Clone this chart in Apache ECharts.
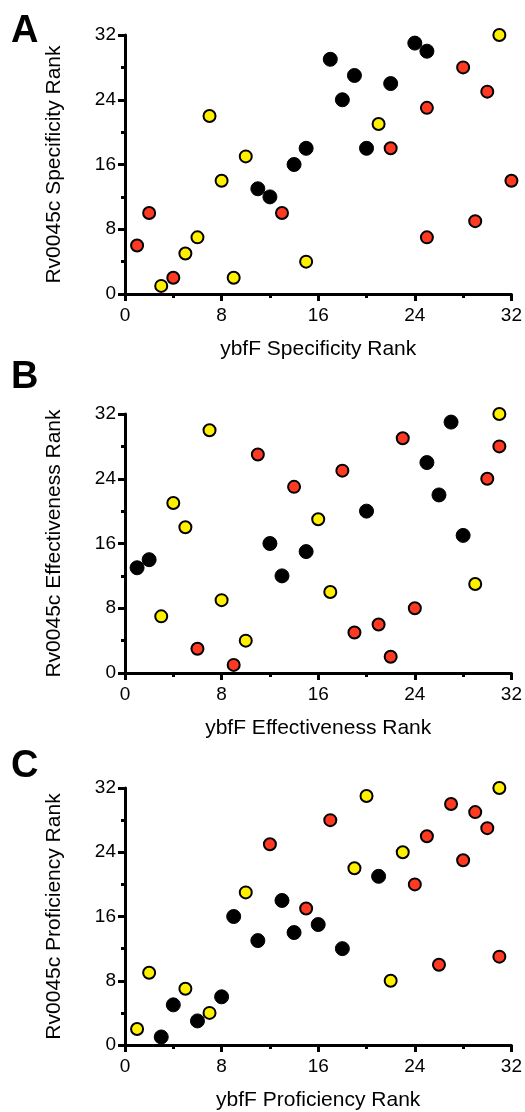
<!DOCTYPE html>
<html lang="en">
<head>
    <meta charset="UTF-8">
    <title>Rank scatter</title>
    <script src="https://cdn.jsdelivr.net/npm/echarts@6/dist/echarts.min.js"></script>
    <style>
        html, body { margin: 0; padding: 0; background: #fff; }
        #chart { width: 525px; height: 1112px; }
    </style>
</head>
<body>
<div id="chart"></div>
<script>
    // [ybfF rank, Rv0045c rank]
    var specRed = [[1,6],[2,10],[4,2],[13,10],[22,18],[25,23],[25,7],[28,28],[29,9],[30,25],[32,14]];
    var specYellow = [[3,1],[5,5],[6,7],[7,22],[8,14],[9,2],[10,17],[15,4],[21,21],[31,32]];
    var specBlack = [[11,13],[12,12],[14,16],[15,18],[17,29],[18,24],[19,27],[20,18],[22,26],[24,31],[25,30]];

    var effRed = [[6,3],[9,1],[11,27],[14,23],[18,25],[19,5],[21,6],[22,2],[23,29],[24,8],[30,24],[31,28]];
    var effYellow = [[3,7],[4,21],[5,18],[7,30],[8,9],[10,4],[16,19],[17,10],[29,11],[31,32]];
    var effBlack = [[1,13],[2,14],[12,16],[13,12],[15,15],[20,20],[25,26],[26,22],[27,31],[28,17]];

    var profRed = [[12,25],[15,17],[17,28],[24,20],[25,26],[26,10],[27,30],[28,23],[29,29],[30,27],[31,11]];
    var profYellow = [[1,2],[2,9],[5,7],[7,4],[10,19],[19,22],[20,31],[22,8],[23,24],[31,32]];
    var profBlack = [[3,1],[4,5],[6,3],[8,6],[9,16],[11,13],[13,18],[14,14],[16,15],[18,12],[21,21]];

    var panelLetters = ['A', 'B', 'C'];
    var xNames = ['ybfF Specificity Rank', 'ybfF Effectiveness Rank', 'ybfF Proficiency Rank'];
    var yNames = ['Rv0045c Specificity Rank', 'Rv0045c Effectiveness Rank', 'Rv0045c Proficiency Rank'];

    var panels = [
        [specRed, specYellow, specBlack],
        [effRed, effYellow, effBlack],
        [profRed, profYellow, profBlack]
    ];
    var gridTops = [35, 414, 788];
    var letterY = [33, 379, 768];
    var font = 'Arial, "Liberation Sans", sans-serif';

    function makeAxis(i, name, gap, isX) {
        return {
            type: 'value',
            gridIndex: i,
            min: 0, max: 32, interval: 8,
            name: name,
            nameLocation: 'middle',
            nameGap: gap,
            nameTextStyle: { color: '#000', fontSize: 21, fontFamily: font },
            axisLine: { show: true, onZero: false, lineStyle: { color: '#000', width: 3 } },
            axisTick: { show: true, length: 7, lineStyle: { color: '#000', width: 3 } },
            minorTick: { show: true, splitNumber: 2, length: 4, lineStyle: { color: '#000', width: 3 } },
            axisLabel: { color: '#000', fontSize: 19, fontFamily: font, margin: isX ? 12 : 9 },
            splitLine: { show: false },
            minorSplitLine: { show: false }
        };
    }

    var grids = [], xAxes = [], yAxes = [], series = [], graphics = [];
    var fills = ['#FF3A22', '#FFF000', '#000'];
    for (var i = 0; i < 3; i++) {
        grids.push({ left: 125, width: 387, top: gridTops[i], height: 259 });
        xAxes.push(makeAxis(i, xNames[i], 45, true));
        yAxes.push(makeAxis(i, yNames[i], 60, false));
        for (var k = 0; k < 3; k++) {
            series.push({
                type: 'scatter',
                xAxisIndex: i,
                yAxisIndex: i,
                data: panels[i][k],
                symbol: 'circle',
                symbolSize: k === 2 ? 14 : 12,
                itemStyle: { color: fills[k], borderColor: '#000', borderWidth: k === 2 ? 1 : 2, opacity: 1 },
                emphasis: { disabled: true },
                z: 3 + k
            });
        }
        graphics.push({
            type: 'text',
            left: 11,
            top: letterY[i] - 20,
            style: { text: panelLetters[i], font: 'bold 38px ' + font, fill: '#000' }
        });
    }

    var chart = echarts.init(document.getElementById('chart'));
    chart.setOption({
        animation: false,
        backgroundColor: '#fff',
        grid: grids,
        xAxis: xAxes,
        yAxis: yAxes,
        series: series,
        graphic: graphics
    });
</script>
</body>
</html>
